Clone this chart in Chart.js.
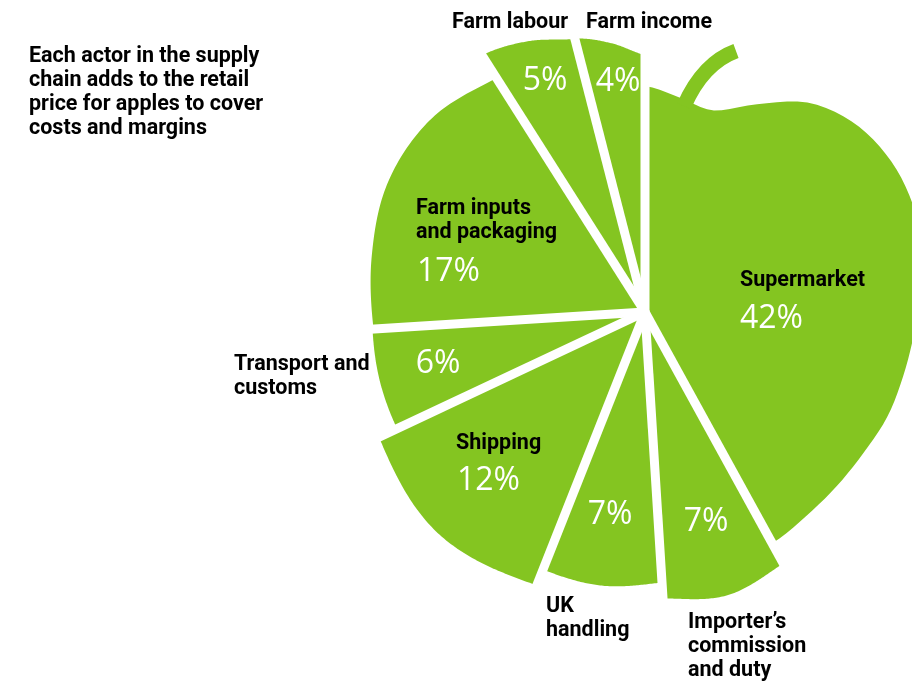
<!DOCTYPE html>
<html>
<head>
<meta charset="utf-8">
<script src="https://cdn.jsdelivr.net/npm/chart.js@4.4.1/dist/chart.umd.min.js"></script>
<style>
  html, body { margin: 0; padding: 0; background: #fff; }
  #wrap { width: 912px; height: 685px; position: relative; }
</style>
</head>
<body>
<div id="wrap"><canvas id="appleChart"></canvas></div>
<script>
// data, clockwise from 12 o'clock
const categories = ['Supermarket', 'Importer\u2019s commission and duty', 'UK handling', 'Shipping',
                    'Transport and customs', 'Farm inputs and packaging', 'Farm labour', 'Farm income'];
const shares = [42, 7, 7, 12, 6, 17, 5, 4];
const nameLines = [['Supermarket'], ['Importer\u2019s', 'commission', 'and duty'], ['UK', 'handling'], ['Shipping'],
                   ['Transport and', 'customs'], ['Farm inputs', 'and packaging'], ['Farm labour'], ['Farm income']];
const titleLines = ['Each actor in the supply', 'chain adds to the retail', 'price for apples to cover', 'costs and margins'];

// styling: apple outline (radius samples spread evenly over each slice), label offsets from the centre
const appleGreen = '#84c521';
const gapWidth = 9;
const sliceOutline = [
  [226, 217, 213, 236, 265, 281, 288, 289, 285, 277, 270, 266, 264, 260, 259, 260, 264],
  [287, 295, 287],
  [271, 277, 277],
  [294, 303, 294],
  [274, 274, 273],
  [272, 279, 288, 288, 277],
  [304, 295, 282],
  [282, 271, 257]
];
const nameOffset = [[95, -31], [43, 311], [-99, 295], [-189, 132], [-411, 53], [-229, -103], [-193, -289], [-59, -289]];
const pctOffset = [[95, 7, 'left'], [61, 210, 'center'], [-35, 203, 'center'], [-188, 169, 'left'],
                   [-207, 52, 'center'], [-228, -40, 'left'], [-100, -231, 'center'], [-27, -230, 'center']];
const nameFont = 'bold 21.5px Roboto, "Liberation Sans", sans-serif';
const pctFont = '32px "Open Sans", Roboto, sans-serif';

function profileAt(p, t) {
  if (p.length === 1) return p[0];
  const f = t * (p.length - 1);
  const k = Math.min(Math.floor(f), p.length - 2);
  const u = f - k;
  const p0 = p[Math.max(k - 1, 0)], p1 = p[k], p2 = p[k + 1], p3 = p[Math.min(k + 2, p.length - 1)];
  return 0.5 * ((2 * p1) + (-p0 + p2) * u + (2 * p0 - 5 * p1 + 4 * p2 - p3) * u * u +
                (-p0 + 3 * p1 - 3 * p2 + p3) * u * u * u);
}

const appleSlices = {
  id: 'appleSlices',
  beforeDatasetDraw(chart, args) {
    const ctx = chart.ctx;
    const arcs = args.meta.data;
    ctx.save();
    arcs.forEach((arc, i) => {
      const steps = 80;
      ctx.beginPath();
      ctx.moveTo(arc.x, arc.y);
      for (let s = 0; s <= steps; s++) {
        const t = s / steps;
        const a = arc.startAngle + t * (arc.endAngle - arc.startAngle);
        const r = profileAt(sliceOutline[i], t);
        ctx.lineTo(arc.x + r * Math.cos(a), arc.y + r * Math.sin(a));
      }
      ctx.closePath();
      ctx.fillStyle = arc.options.backgroundColor;
      ctx.fill();
    });
    // white cuts between the slices
    ctx.strokeStyle = '#fff';
    ctx.lineWidth = gapWidth;
    arcs.forEach(arc => {
      ctx.beginPath();
      ctx.moveTo(arc.x, arc.y);
      ctx.lineTo(arc.x + 315 * Math.cos(arc.startAngle), arc.y + 315 * Math.sin(arc.startAngle));
      ctx.stroke();
    });
    ctx.restore();
    return false;
  },
  afterDatasetsDraw(chart) {
    const ctx = chart.ctx;
    const arcs = chart.getDatasetMeta(0).data;
    const cx = arcs[0].x, cy = arcs[0].y;
    ctx.save();
    // stem
    ctx.strokeStyle = appleGreen;
    ctx.lineWidth = 15;
    ctx.lineCap = 'butt';
    ctx.beginPath();
    ctx.moveTo(cx + 39, cy - 206);
    ctx.quadraticCurveTo(cx + 58, cy - 249, cx + 91, cy - 261);
    ctx.stroke();

    ctx.textBaseline = 'middle';
    arcs.forEach((arc, i) => {
      ctx.font = nameFont;
      ctx.fillStyle = '#000';
      ctx.textAlign = 'left';
      nameLines[i].forEach((line, k) => {
        ctx.fillText(line, cx + nameOffset[i][0], cy + nameOffset[i][1] + k * 24);
      });
      ctx.font = pctFont;
      ctx.fillStyle = '#fff';
      ctx.textAlign = pctOffset[i][2];
      ctx.fillText(shares[i] + '%', cx + pctOffset[i][0], cy + pctOffset[i][1]);
    });

    ctx.font = nameFont;
    ctx.fillStyle = '#000';
    ctx.textAlign = 'left';
    titleLines.forEach((line, k) => ctx.fillText(line, 29, 57 + k * 24));
    ctx.restore();
  }
};

new Chart(document.getElementById('appleChart'), {
  type: 'pie',
  data: {
    labels: categories,
    datasets: [{
      data: shares,
      backgroundColor: appleGreen,
      borderWidth: 0
    }]
  },
  options: {
    responsive: true,
    maintainAspectRatio: false,
    animation: false,
    events: [],
    layout: { padding: { left: 378, right: 0, top: 0, bottom: 61 } },
    plugins: {
      legend: { display: false },
      tooltip: { enabled: false }
    }
  },
  plugins: [appleSlices]
});
</script>
</body>
</html>
